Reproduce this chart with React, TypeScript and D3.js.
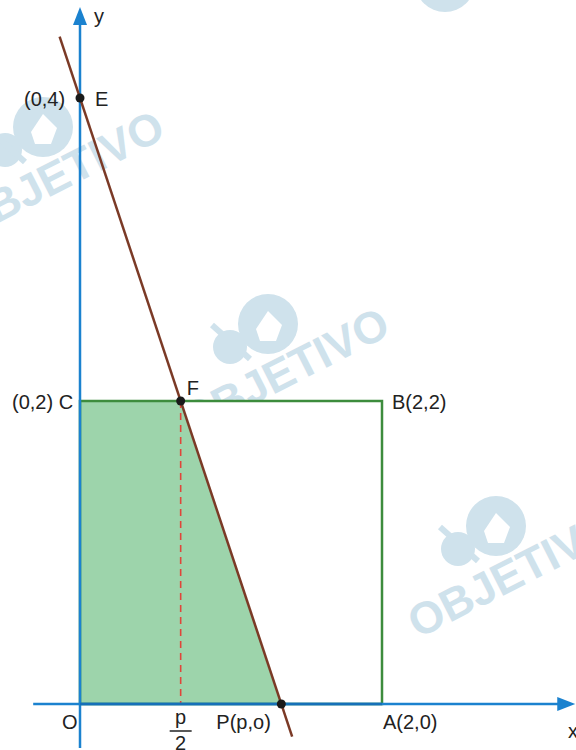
import React from "react";
import * as d3 from "d3";

// Geometry data (coordinates in chart units)
const squareCorners: [number, number][] = [[0, 0], [2, 0], [2, 2], [0, 2]];
const shadedRegion: [number, number][] = [[0, 0], [0, 2], [2 / 3, 2], [4 / 3, 0]];
const lineEnds: [number, number][] = [[-0.135, 4.405], [1.405, -0.215]];
const dots: [number, number][] = [[0, 4], [2 / 3, 2], [4 / 3, 0]];
const dashedSeg: [number, number][] = [[2 / 3, 2], [2 / 3, 0]];
const xAxisRange = [-0.31, 3.28];
const yAxisRange = [-0.29, 4.6];

const labels = [
  { t: "(0,4)", x: 0, y: 4, dx: -56, dy: 8 },
  { t: "E", x: 0, y: 4, dx: 15, dy: 8 },
  { t: "(0,2) C", x: 0, y: 2, dx: -68, dy: 8 },
  { t: "F", x: 2 / 3, y: 2, dx: 6, dy: -6 },
  { t: "B(2,2)", x: 2, y: 2, dx: 10, dy: 8 },
  { t: "O", x: 0, y: 0, dx: -18, dy: 25 },
  { t: "P(p,o)", x: 4 / 3, y: 0, dx: -65, dy: 25 },
  { t: "A(2,0)", x: 2, y: 0, dx: 1, dy: 25 },
];

const watermarks: [number, number][] = [[-35, 240], [190, 437], [418, 639]];

const W = 576, H = 750;
const x = d3.scaleLinear().domain([0, 2]).range([80, 382]);
const y = d3.scaleLinear().domain([0, 2]).range([704, 401]);

const WM = "#cfe2ec";
const font = "'Liberation Sans', Arial, sans-serif";

function Watermark({ sx, sy }: { sx: number; sy: number }) {
  return (
    <g transform={`translate(${sx},${sy}) rotate(-27)`}>
      <text x={0} y={0} fontFamily={font} fontWeight="bold" fontSize={45} fill={WM}>
        OBJETIVO
      </text>
      <g transform="rotate(27)">
        <circle cx={40} cy={-90} r={17} fill={WM} />
        <line x1={22} y1={-112} x2={60} y2={-78} stroke={WM} strokeWidth={6} />
        <circle cx={78} cy={-113} r={30} fill={WM} />
        <path d="M66,-108 L78,-126 L92,-112 L86,-96 L70,-96 Z" fill="white" />
      </g>
    </g>
  );
}

export default function App() {
  const line = d3.line<[number, number]>().x((d) => x(d[0])).y((d) => y(d[1]));
  const sq = line(squareCorners) + "Z";
  const shade = line(shadedRegion) + "Z";
  const blue = "#1b82cf";
  const xa0 = x(xAxisRange[0]), xa1 = x(xAxisRange[1]);
  const ya0 = y(yAxisRange[0]), ya1 = y(yAxisRange[1]);
  return (
    <svg width={W} height={H} style={{ position: "absolute", left: 0, top: 0, background: "white" }}>
      {watermarks.map((w, i) => (
        <Watermark key={i} sx={w[0]} sy={w[1]} />
      ))}
      <circle cx={445} cy={-18} r={30} fill={WM} />
      <circle cx={440} cy={-22} r={14} fill="white" />

      <path d={sq} fill="white" />
      <path d={shade} fill="#9dd4ab" />
      <path d={sq} fill="none" stroke="#3d8c3d" strokeWidth={2.5} />
      <path d={line(dashedSeg)!} stroke="#e0453a" strokeWidth={1.6} strokeDasharray="7,5" />

      {/* axes */}
      <line x1={xa0} y1={y(0)} x2={xa1 - 10} y2={y(0)} stroke={blue} strokeWidth={2.5} />
      <path d={`M${xa1},${y(0)} L${xa1 - 18},${y(0) - 7} L${xa1 - 18},${y(0) + 7} Z`} fill={blue} />
      <line x1={x(0)} y1={ya0} x2={x(0)} y2={ya1 + 10} stroke={blue} strokeWidth={2.5} />
      <path d={`M${x(0)},${ya1} L${x(0) - 7},${ya1 + 18} L${x(0) + 7},${ya1 + 18} Z`} fill={blue} />
      <line x1={x(0)} y1={y(0)} x2={x(2)} y2={y(0)} stroke="#1670b8" strokeWidth={2.5} />

      <path d={line(lineEnds)!} stroke="#7b3a26" strokeWidth={2.5} fill="none" />
      {dots.map((d, i) => (
        <circle key={i} cx={x(d[0])} cy={y(d[1])} r={4.5} fill="#1a1a1a" />
      ))}

      <g fontFamily={font} fontSize={20} fill="#222">
        {labels.map((l, i) => (
          <text key={i} x={x(l.x) + l.dx} y={y(l.y) + l.dy}>
            {l.t}
          </text>
        ))}
        <text x={x(0) + 14} y={ya1 + 16}>y</text>
        <text x={568} y={y(0) + 34}>x</text>
        <text x={x(2 / 3)} y={y(0) + 20} textAnchor="middle">p</text>
        <line x1={x(2 / 3) - 11} y1={y(0) + 27} x2={x(2 / 3) + 11} y2={y(0) + 27} stroke="#222" strokeWidth={1.5} />
        <text x={x(2 / 3)} y={y(0) + 46} textAnchor="middle">2</text>
      </g>
    </svg>
  );
}
